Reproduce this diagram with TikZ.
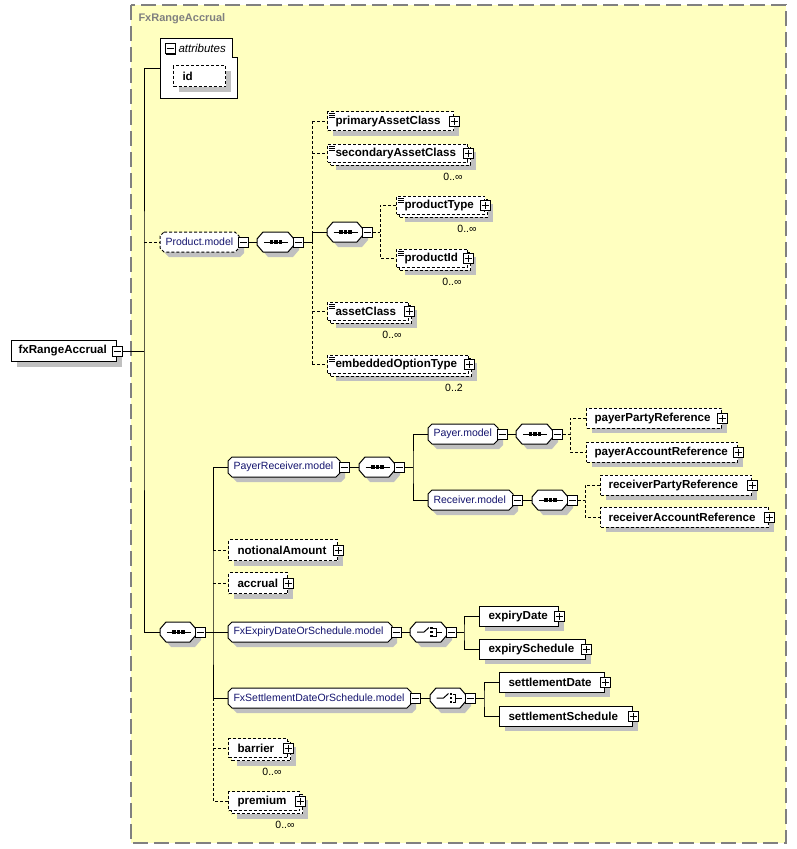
\documentclass[tikz,border=0pt]{standalone}
\usepackage{fontspec}
\setmainfont{Liberation Sans}
\usetikzlibrary{shadows,calc}
\definecolor{bg}{RGB}{255,255,192}
\definecolor{shgray}{RGB}{192,192,192}
\definecolor{framegray}{RGB}{128,128,128}
\definecolor{navy}{RGB}{20,20,110}
\newcommand\myelfont{\fontsize{11.6}{13}\selectfont\bfseries}
\newcommand\mymodelfont{\fontsize{10.5}{12}\selectfont}
% octagon outline: #1 left, #2 y centre, #3 width, #4 chamfer x, #5 chamfer y, #6 extra style
\newcommand\octo[6]{%
 \begin{scope}[shift={(#1,#2)}]
  \fill[shgray] (5+#4,-5) -- (5+#3-#4,-5) -- (5+#3,-5+#5) -- (5+#3,15-#5) -- (5+#3-#4,15) -- (5+#4,15) -- (5,15-#5) -- (5,-5+#5) -- cycle;
  \draw[fill=white,#6] (#4,-10) -- (#3-#4,-10) -- (#3,-10+#5) -- (#3,10-#5) -- (#3-#4,10) -- (#4,10) -- (0,10-#5) -- (0,-10+#5) -- cycle;
 \end{scope}}
\newcommand\seqsym[1]{%
 \draw[solid,line width=1pt] ([xshift=-12pt]#1.center) -- ([xshift=12pt]#1.center);
 \foreach \dx in {-4.5,0,4.5}
   \fill ([xshift=\dx*1pt]#1.center) +(-1.6pt,-1.6pt) rectangle +(1.6pt,1.6pt);}
\newcommand\choicesym[1]{%
 \draw[solid,line width=1pt] ([xshift=-12pt]#1.center) -- ([xshift=-5pt]#1.center) -- ([xshift=0pt,yshift=4.5pt]#1.center);
 \foreach \dy in {-4,0,4}
   \fill ([xshift=2.5pt,yshift=\dy*1pt]#1.center) +(-1.4pt,-1.4pt) rectangle +(1.4pt,1.4pt);
 \draw[solid,line width=1pt] ([xshift=4pt,yshift=4pt]#1.center) -- ([xshift=7pt,yshift=4pt]#1.center) -- ([xshift=7pt,yshift=-4pt]#1.center) -- ([xshift=4pt,yshift=-4pt]#1.center)
   ([xshift=7pt]#1.center) -- ([xshift=13pt]#1.center);}
\begin{document}
\begin{tikzpicture}[x=1pt,y=-1pt,line width=1pt,
 opt/.style={dash pattern=on 3pt off 2pt},
 sh/.style={general shadow={shadow xshift=5pt,shadow yshift=-5pt,fill=shgray,draw=none,opacity=1}},
 basebox/.style={draw, fill=white, anchor=west, inner sep=0, minimum height=20},
 single/.style={basebox, sh},
 multi/.style={basebox, minimum height=18,
   general shadow={shadow xshift=8pt,shadow yshift=-8pt,fill=shgray,draw=none,opacity=1},
   general shadow={shadow xshift=3pt,shadow yshift=-3pt,fill=white,draw=black,opt,opacity=1}},
 simple/.style={path picture={
   \foreach \dy in {2,4,6}
     \draw[solid,line width=0.7pt] ([xshift=1.5pt,yshift=-\dy*1pt]path picture bounding box.north west) -- ++(6pt,0pt);}},
 lab/.style={anchor=west, inner sep=0, xshift=8pt, font=\myelfont},
 mlab/.style={anchor=west, inner sep=0, xshift=5pt, font=\mymodelfont, text=navy},
 grp/.style={anchor=west, inner sep=0, minimum height=20},
 pmbox/.style={draw, solid, fill=white, inner sep=0, minimum size=10, line width=1pt,
   general shadow={shadow xshift=1.2pt, shadow yshift=-1.2pt, fill=black, draw=none, opacity=1}},
 minus/.style={pmbox, path picture={\draw[line width=1pt] ([xshift=-3.5pt]path picture bounding box.center) -- ([xshift=3.5pt]path picture bounding box.center);}},
 plus/.style={pmbox, path picture={\draw[line width=1pt] ([xshift=-3.5pt]path picture bounding box.center) -- ([xshift=3.5pt]path picture bounding box.center) ([yshift=-3.5pt]path picture bounding box.center) -- ([yshift=3.5pt]path picture bounding box.center);}},
 card/.style={font=\mymodelfont, inner sep=0}
]
\useasboundingbox (0,0) rectangle (797,849);
% outer group frame
\draw[fill=bg, draw=framegray, line width=1.5pt, dash pattern=on 15pt off 6pt] (131,5) rectangle (786,843);
\node[anchor=west, inner sep=0, text=framegray, font=\fontsize{11}{13}\selectfont\bfseries] (title) at (138,19) {FxRangeAccrual};

% root element
\node[single, minimum width=105, minimum height=21, label={[lab,xshift=-1pt]west:fxRangeAccrual}] (fx) at (11,351) {};
\node[minus] (fxm) at (fx.east) {};

% attributes
\node[anchor=north west, inner sep=0, minimum width=77, minimum height=60] (attr) at (160,38) {};
\draw[fill=white] (attr.north west) -- ++(72,0) -- ++(0,19) -- ++(5,0) -- ++(0,41) -- ++(-77,0) -- cycle;
\node[minus] (attrm) at (170,48.5) {};
\node[anchor=west, inner sep=0, font=\fontsize{11.5}{13}\selectfont\itshape] (attrt) at (178,48) {attributes};
\node[single, opt, minimum width=52, minimum height=21, label={[lab,xshift=1pt]west:id}] (id) at (173,76) {};

% Product.model
\octo{160}{242}{79}{4}{4}{opt}
\node[grp, minimum width=79, label={[mlab]west:Product.model}] (pmod) at (160,242) {};
\node[minus] (pmodm) at ([xshift=3pt]pmod.east) {};
\octo{257}{242}{37}{6}{7}{}
\node[grp, minimum width=37] (sP) at (257,242) {};
\seqsym{sP}
\node[minus] (sPm) at ([xshift=3pt]sP.east) {};
\node[single, opt, simple, minimum width=126, minimum height=19, label={[lab]west:primaryAssetClass}] (pac) at (327,121) {};
\node[plus] (pacp) at (pac.east) {};
\node[multi, opt, simple, minimum width=140, label={[lab]west:secondaryAssetClass}] (sac) at (327,153) {};
\node[plus] (sacp) at (sac.east) {};
\node[card] (sacc) at (453,177) {0..∞};
\octo{327}{232}{36}{6}{7}{}
\node[grp, minimum width=36] (sP2) at (327,232) {};
\seqsym{sP2}
\node[minus] (sP2m) at ([xshift=3pt]sP2.east) {};
\node[multi, opt, simple, minimum width=88, label={[lab]west:productType}] (pt) at (396,205) {};
\node[plus] (ptp) at (pt.east) {};
\node[card] (ptc) at (467,229) {0..∞};
\node[multi, opt, simple, minimum width=71, label={[lab]west:productId}] (pid) at (396,258) {};
\node[plus] (pidp) at (pid.east) {};
\node[card] (pidc) at (452,282) {0..∞};
\node[multi, opt, simple, minimum width=81, label={[lab]west:assetClass}] (ac) at (327,311) {};
\node[plus] (acp) at (ac.east) {};
\node[card] (acc) at (392,335) {0..∞};
\node[multi, opt, simple, minimum width=141, label={[lab]west:embeddedOptionType}] (eot) at (327,364) {};
\node[plus] (eotp) at (eot.east) {};
\node[card] (eotc) at (454,388) {0..2};

% main sequence
\octo{160}{632}{36}{6}{7}{}
\node[grp, minimum width=36] (sM) at (160,632) {};
\seqsym{sM}
\node[minus] (sMm) at ([xshift=3pt]sM.east) {};

% PayerReceiver.model
\octo{228}{467}{112}{4}{4}{}
\node[grp, minimum width=112, label={[mlab]west:PayerReceiver.model}] (prm) at (228,467) {};
\node[minus] (prmm) at ([xshift=3pt]prm.east) {};
\octo{359}{467}{36}{6}{7}{}
\node[grp, minimum width=36] (sPR) at (359,467) {};
\seqsym{sPR}
\node[minus] (sPRm) at ([xshift=3pt]sPR.east) {};
\octo{428}{434}{70}{4}{4}{}
\node[grp, minimum width=70, label={[mlab]west:Payer.model}] (pay) at (428,434) {};
\node[minus] (paym) at ([xshift=3pt]pay.east) {};
\octo{516}{434}{37}{6}{7}{}
\node[grp, minimum width=37] (sPay) at (516,434) {};
\seqsym{sPay}
\node[minus] (sPaym) at ([xshift=3pt]sPay.east) {};
\node[single, opt, minimum width=135, label={[lab]west:payerPartyReference}] (ppr) at (586,418) {};
\node[plus] (pprp) at (ppr.east) {};
\node[single, opt, minimum width=151, label={[lab]west:payerAccountReference}] (par) at (586,452) {};
\node[plus] (parp) at (par.east) {};
\octo{428}{500}{85}{4}{4}{}
\node[grp, minimum width=85, label={[mlab]west:Receiver.model}] (rec) at (428,500) {};
\node[minus] (recm) at ([xshift=3pt]rec.east) {};
\octo{532}{500}{36}{6}{7}{}
\node[grp, minimum width=36] (sRec) at (532,500) {};
\seqsym{sRec}
\node[minus] (sRecm) at ([xshift=3pt]sRec.east) {};
\node[single, opt, minimum width=151, label={[lab]west:receiverPartyReference}] (rpr) at (600,485) {};
\node[plus] (rprp) at (rpr.east) {};
\node[single, opt, minimum width=168, label={[lab]west:receiverAccountReference}] (rar) at (600,517) {};
\node[plus] (rarp) at (rar.east) {};

% notionalAmount, accrual
\node[single, opt, minimum width=109, minimum height=21, label={[lab,xshift=1pt]west:notionalAmount}] (na) at (228,550) {};
\node[plus] (nap) at (na.east) {};
\node[single, opt, minimum width=59, minimum height=21, label={[lab,xshift=1pt]west:accrual}] (acr) at (228,583) {};
\node[plus] (acrp) at (acr.east) {};

% FxExpiryDateOrSchedule.model
\octo{228}{632}{164}{4}{4}{}
\node[grp, minimum width=164, label={[mlab]west:FxExpiryDateOrSchedule.model}] (fxe) at (228,632) {};
\node[minus] (fxem) at ([xshift=3pt]fxe.east) {};
\octo{410}{632}{37}{6}{7}{}
\node[grp, minimum width=37] (cE) at (410,632) {};
\choicesym{cE}
\node[minus] (cEm) at ([xshift=3pt]cE.east) {};
\node[single, minimum width=79, label={[lab,xshift=1pt]west:expiryDate}] (ed) at (479,616) {};
\node[plus] (edp) at (ed.east) {};
\node[single, minimum width=106, label={[lab,xshift=1pt]west:expirySchedule}] (es) at (479,649) {};
\node[plus] (esp) at (es.east) {};

% FxSettlementDateOrSchedule.model
\octo{228}{698}{183}{4}{4}{}
\node[grp, minimum width=183, label={[mlab]west:FxSettlementDateOrSchedule.model}] (fxs) at (228,698) {};
\node[minus] (fxsm) at ([xshift=3pt]fxs.east) {};
\octo{430}{698}{36}{6}{7}{}
\node[grp, minimum width=36] (cS) at (430,698) {};
\choicesym{cS}
\node[minus] (cSm) at ([xshift=3pt]cS.east) {};
\node[single, minimum width=105, label={[lab,xshift=1pt]west:settlementDate}] (sd) at (499,682) {};
\node[plus] (sdp) at (sd.east) {};
\node[single, minimum width=133, label={[lab,xshift=1pt]west:settlementSchedule}] (ss) at (499,716) {};
\node[plus] (ssp) at (ss.east) {};

% barrier, premium
\node[multi, opt, minimum width=59, minimum height=19, label={[lab,xshift=1pt]west:barrier}] (bar) at (228,748) {};
\node[plus] (barp) at (bar.east) {};
\node[card] (barc) at (272,772) {0..∞};
\node[multi, opt, minimum width=71, minimum height=19, label={[lab,xshift=1pt]west:premium}] (prem) at (228,801) {};
\node[plus] (premp) at (prem.east) {};
\node[card] (premc) at (285,825) {0..∞};

% bus coordinates
\coordinate (bus0) at (144,351);
\coordinate (bus1) at (312,242);
\coordinate (bus2) at (380,232);
\coordinate (bus3) at (213,632);
\coordinate (bus4) at (413,467);
\coordinate (bus5) at (570,434);
\coordinate (bus6) at (585,500);
\coordinate (bus7) at (464,632);
\coordinate (bus8) at (484,698);

% connectors: root
\draw (fxm.east) -- (bus0);
\draw (attr.west) -| (bus0) |- (sM.west);
\draw[opt] (bus0 |- pmod.west) -- (pmod.west);
% Product.model
\draw (pmodm.east) -- (sP.west);
\draw (sPm.east) -- (bus1);
\draw[opt] (bus1 |- pac.west) -- (bus1 |- eot.west);
\draw (bus1) |- (sP2.west);
\draw[opt] (bus1 |- pac.west) -- (pac.west);
\draw[opt] (bus1 |- sac.west) -- (sac.west);
\draw[opt] (bus1 |- ac.west) -- (ac.west);
\draw[opt] (bus1 |- eot.west) -- (eot.west);
\draw[opt] (sP2m.east) -- (bus2);
\draw[opt] (pt.west) -| (bus2) |- (pid.west);
% main sequence
\draw (sMm.east) -- (bus3);
\draw (prm.west) -| (bus3) |- (fxs.west);
\draw (bus3) -- (fxe.west);
\draw[opt] (bus3 |- fxs.west) |- (prem.west);
\draw[opt] (bus3 |- na.west) -- (na.west);
\draw[opt] (bus3 |- acr.west) -- (acr.west);
\draw[opt] (bus3 |- bar.west) -- (bar.west);
% PayerReceiver
\draw (prmm.east) -- (sPR.west);
\draw (sPRm.east) -- (bus4);
\draw (pay.west) -| (bus4) |- (rec.west);
\draw (paym.east) -- (sPay.west);
\draw[opt] (sPaym.east) -- (bus5);
\draw[opt] (ppr.west) -| (bus5) |- (par.west);
\draw (recm.east) -- (sRec.west);
\draw[opt] (sRecm.east) -- (bus6);
\draw[opt] (rpr.west) -| (bus6) |- (rar.west);
% choices
\draw (fxem.east) -- (cE.west);
\draw (cEm.east) -- (bus7);
\draw (ed.west) -| (bus7) |- (es.west);
\draw (fxsm.east) -- (cS.west);
\draw (cSm.east) -- (bus8);
\draw (sd.west) -| (bus8) |- (ss.west);
\end{tikzpicture}
\end{document}
